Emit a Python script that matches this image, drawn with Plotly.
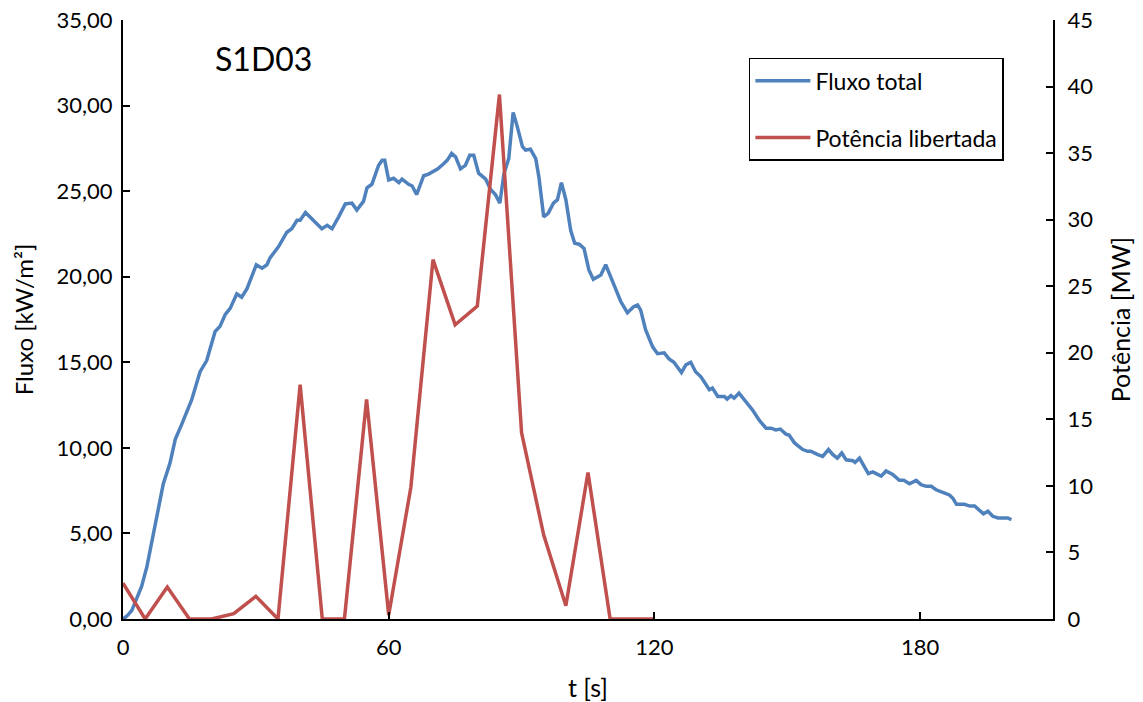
import plotly.graph_objects as go

# Fluxo total (kW/m2) vs time (s)
t_fluxo = [0, 1, 2, 4.2, 5.4, 6.9, 8.0, 9.1, 10.6, 11.8, 13.3, 15.5, 17.4, 18.9, 20.8, 21.9,
           23.1, 24.2, 25.7, 26.8, 28.0, 30.1, 31.4, 32.5, 33.2, 35.1, 37.0, 38.1, 39.3, 40.0,
           41.2, 43.0, 44.9, 46.1, 47.2, 48.7, 50.2, 51.7, 52.8, 54.3, 55.1, 56.2, 57.7, 58.5,
           59.1, 60.0, 61.1, 62.3, 63.0, 64.5, 65.3, 66.3, 67.9, 69.0, 70.2, 71.1, 72.4, 73.2,
           74.2, 75.1, 76.2, 77.3, 78.3, 79.2, 80.3, 81.9, 83.0, 84.1, 85.1, 86.0, 87.1, 88.1,
           89.0, 90.2, 90.9, 92.0, 93.2, 93.9, 95.0, 96.0, 97.2, 98.1, 99.0, 100.0, 101.1, 102.0,
           103.0, 104.1, 105.2, 106.2, 107.9, 109.0, 110.1, 111.3, 112.4, 113.9, 115.3, 116.2,
           116.9, 118.0, 119.6, 120.7, 122.2, 123.3, 124.4, 126.1, 127.1, 128.2, 129.3, 130.5,
           132.4, 133.1, 134.3, 135.8, 136.4, 137.3, 138.0, 139.1, 140.7, 142.2, 143.7, 145.2,
           146.3, 147.4, 148.4, 149.7, 150.4, 151.6, 152.3, 153.5, 154.6, 155.3, 156.9, 158.0,
           159.3, 160.3, 161.3, 162.3, 163.3, 164.8, 165.3, 166.3, 167.3, 168.3, 169.3, 171.2,
           172.3, 173.8, 175.3, 176.3, 177.6, 179.1, 180.2, 181.4, 182.5, 183.6, 185.1, 186.6,
           187.4, 188.2, 190.0, 191.2, 192.3, 193.1, 194.3, 195.3, 196.4, 197.6, 199.1, 199.8,
           200.6]
fluxo = [0.0, 0.2, 0.5, 1.9, 3.06, 5.0, 6.4, 7.9, 9.1, 10.5, 11.4, 12.8, 14.45, 15.1, 16.8, 17.1,
         17.8, 18.15, 19.0, 18.8, 19.3, 20.7, 20.5, 20.7, 21.1, 21.75, 22.6, 22.8, 23.3, 23.3,
         23.75, 23.3, 22.8, 23.0, 22.8, 23.5, 24.25, 24.3, 23.9, 24.4, 25.2, 25.4, 26.5, 26.8,
         26.8, 25.65, 25.75, 25.5, 25.7, 25.4, 25.3, 24.8, 25.9, 26.0, 26.2, 26.3, 26.6, 26.8,
         27.2, 27.0, 26.3, 26.5, 27.1, 27.1, 26.05, 25.7, 25.1, 24.8, 24.3, 26.0, 26.9, 29.6,
         28.8, 27.6, 27.4, 27.45, 26.9, 25.85, 23.5, 23.7, 24.3, 24.5, 25.5, 24.5, 22.7, 21.95,
         21.9, 21.65, 20.4, 19.85, 20.1, 20.7, 20.0, 19.3, 18.55, 17.9, 18.25, 18.35,
         18.05, 16.9, 15.9, 15.5, 15.55, 15.2, 15.0, 14.4, 14.85, 15.0, 14.45, 14.15,
         13.4, 13.5, 13.0, 13.0, 12.85, 13.05, 12.9, 13.2, 12.7, 12.2, 11.6, 11.15,
         11.15, 11.05, 11.1, 10.8, 10.75, 10.3, 10.15, 9.9, 9.8, 9.8, 9.6, 9.5,
         9.9, 9.6, 9.4, 9.7, 9.3, 9.25, 9.15, 9.4, 8.95, 8.5, 8.6, 8.35,
         8.65, 8.45, 8.1, 8.1, 7.9, 8.1, 7.85, 7.75, 7.75, 7.55, 7.4, 7.25,
         7.05, 6.7, 6.7, 6.6, 6.6, 6.4, 6.15, 6.3, 6.0, 5.9, 5.9, 5.9,
         5.8]

# Potência libertada (MW) vs time (s)
t_pot = [0, 5, 10, 15, 20, 25, 30, 35, 40, 45, 50, 55, 60, 65, 70, 75, 80, 85, 90, 95, 100,
         105, 110, 115, 120]
pot = [2.7, 0, 2.4, 0, 0, 0.4, 1.7, 0, 17.6, 0, 0, 16.5, 0.3, 9.9, 27.0, 22.1, 23.5, 39.4,
       14.0, 6.3, 1.0, 11.0, 0, 0, 0]

x_ticks = [0, 60, 120, 180]
y1_ticks = [0, 5, 10, 15, 20, 25, 30, 35]
y2_ticks = [0, 5, 10, 15, 20, 25, 30, 35, 40, 45]

FONT = "Lato"
BLUE = "#4F81BD"
RED = "#C0504D"

fig = go.Figure()
fig.add_trace(go.Scatter(x=t_fluxo, y=fluxo, mode="lines", name="Fluxo total",
                         line=dict(color=BLUE, width=3.5), legendgroup="a"))
fig.add_trace(go.Scatter(x=t_pot, y=pot, mode="lines", name="Potência libertada",
                         line=dict(color=RED, width=3.5), yaxis="y2", legendgroup="b"))

axis_common = dict(showgrid=False, zeroline=False, showline=True, linecolor="black",
                   linewidth=2, ticks="inside", ticklen=7, tickwidth=2, tickcolor="black",
                   tickfont=dict(family=FONT, size=22, color="black"), automargin=False)

fig.update_layout(
    width=1143, height=702,
    margin=dict(l=123, r=90, t=20, b=83),
    paper_bgcolor="white", plot_bgcolor="white",
    separators=",.",
    font=dict(family=FONT, size=22, color="black"),
    xaxis=dict(range=[0, 210], tickvals=x_ticks, ticklabelstandoff=8,
               title=dict(text="t [s]", font=dict(family=FONT, size=25), standoff=20),
               **axis_common),
    yaxis=dict(range=[0, 35], tickvals=y1_ticks, tickformat=".2f", ticklabelstandoff=4,
               title=dict(text="Fluxo [kW/m²]", font=dict(family=FONT, size=24), standoff=16),
               **axis_common),
    yaxis2=dict(range=[0, 45], tickvals=y2_ticks, overlaying="y", side="right",
                ticklabelstandoff=8,
                title=dict(text="Potência [MW]", font=dict(family=FONT, size=25), standoff=20),
                **axis_common),
    legend=dict(x=0.673, y=0.937, xanchor="left", yanchor="top",
                bordercolor="black", borderwidth=1.5, bgcolor="white",
                font=dict(family=FONT, size=23), tracegroupgap=24,
                traceorder="grouped", itemwidth=55),
    annotations=[dict(text="S1D03", xref="paper", yref="paper", x=0.097, y=0.935,
                      xanchor="left", yanchor="middle", showarrow=False,
                      font=dict(family=FONT, size=32, color="black"))],
)

fig.write_html("out.html")
